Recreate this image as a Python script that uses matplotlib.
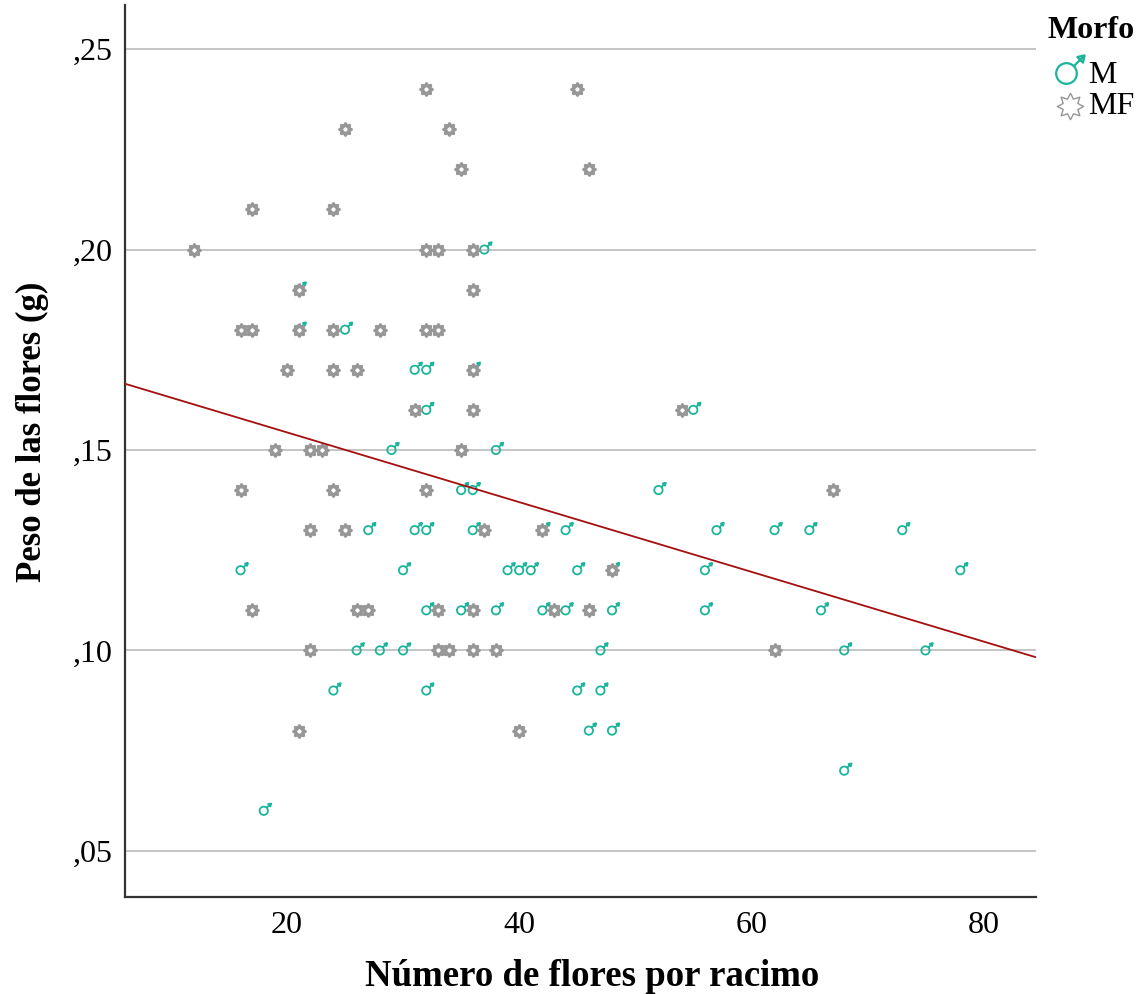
import matplotlib
matplotlib.use("Agg")
import matplotlib.pyplot as plt
from matplotlib.lines import Line2D
from matplotlib.path import Path
from matplotlib.ticker import FuncFormatter
import numpy as np

# Morfo M (male flowers)
m_flores = [37, 21, 21, 25, 31, 32, 36, 32, 55, 29, 38, 35, 36, 52,
            27, 31, 32, 36, 42, 44, 57, 62, 65, 73,
            16, 30, 39, 40, 41, 45, 48, 56, 78,
            32, 35, 38, 42, 44, 48, 56, 66,
            26, 28, 30, 47, 68, 75,
            24, 32, 45, 47, 46, 48, 68, 18]
m_peso = [.20, .19, .18, .18, .17, .17, .17, .16, .16, .15, .15, .14, .14, .14,
          .13, .13, .13, .13, .13, .13, .13, .13, .13, .13,
          .12, .12, .12, .12, .12, .12, .12, .12, .12,
          .11, .11, .11, .11, .11, .11, .11, .11,
          .10, .10, .10, .10, .10, .10,
          .09, .09, .09, .09, .08, .08, .07, .06]

# Morfo MF
mf_flores = [32, 45, 25, 34, 35, 46, 17, 24, 12, 32, 33, 36, 21, 36,
             16, 17, 21, 24, 28, 32, 33, 20, 24, 26, 36, 31, 36, 54,
             19, 22, 23, 35, 16, 24, 32, 67, 22, 25, 37, 42, 48,
             17, 26, 27, 33, 36, 43, 46, 22, 33, 34, 36, 38, 62, 21, 40]
mf_peso = [.24, .24, .23, .23, .22, .22, .21, .21, .20, .20, .20, .20, .19, .19,
           .18, .18, .18, .18, .18, .18, .18, .17, .17, .17, .17, .16, .16, .16,
           .15, .15, .15, .15, .14, .14, .14, .14, .13, .13, .13, .13, .12,
           .11, .11, .11, .11, .11, .11, .11, .10, .10, .10, .10, .10, .10, .08, .08]

y_ticks = [.05, .10, .15, .20, .25]
x_ticks = [20, 40, 60, 80]

teal = "#1cb59b"
gris = "#979797"

# male sign: circle centred on the point, arrow to the upper right
macho = Path.make_compound_path(
    Path.circle((0, 0), 1.0),
    Path([(0.71, 0.71), (1.75, 1.75)], [Path.MOVETO, Path.LINETO]),
    Path([(1.75, 1.75), (1.05, 1.6), (1.6, 1.05), (1.75, 1.75)],
         [Path.MOVETO, Path.LINETO, Path.LINETO, Path.CLOSEPOLY]))
estrella = Path.unit_regular_star(8, 0.6)

plt.rcParams['font.family'] = ['Liberation Serif', 'DejaVu Serif']

fig = plt.figure(figsize=(11.47, 9.94), dpi=100)
ax = fig.add_axes([0.109, 0.0976, 0.794, 0.8974])

ax.set_xlim(6.05, 84.5)
ax.set_ylim(0.0385, 0.261)

ax.scatter(m_flores, m_peso, marker=macho, s=110, facecolors='none',
           edgecolors=teal, linewidths=1.3, zorder=3)
ax.scatter(mf_flores, mf_peso, marker=estrella, s=70, facecolors='white',
           edgecolors=gris, linewidths=2.3, zorder=4)

# Fit line at total
todos_x = np.array(m_flores + mf_flores)
todos_y = np.array(m_peso + mf_peso)
pend, inter = np.polyfit(todos_x, todos_y, 1)
xl = np.array(ax.get_xlim())
ax.plot(xl, inter + pend * xl, color="#a50f0f", lw=1.3, zorder=5)

ax.set_yticks(y_ticks)
ax.set_xticks(x_ticks)
ax.yaxis.set_major_formatter(FuncFormatter(lambda v, p: ("%.2f" % v).replace("0.", ",")))
ax.tick_params(length=0, labelsize=23, pad=9)
ax.tick_params(axis='x', pad=10)
ax.grid(axis='y', color="#b5b5b5", lw=1.1)
ax.set_axisbelow(True)
for s in ['top', 'right']:
    ax.spines[s].set_visible(False)
for s in ['left', 'bottom']:
    ax.spines[s].set_color("#333333")
    ax.spines[s].set_linewidth(1.6)

fig.text(592 / 1147, 1 - 977 / 994, "Número de flores por racimo", fontsize=26.5,
         fontweight='bold', ha='center', va='center')
fig.text(32 / 1147, 1 - 582 / 994, "Peso de las flores (g)", fontsize=25,
         fontweight='bold', ha='center', va='bottom', rotation=90)

# legend, placed by hand to the right of the plot
fig.text(1048 / 1147, 1 - 38 / 994, "Morfo", fontsize=23, fontweight='bold',
         ha='left', va='baseline')
fig.text(1088 / 1147, 1 - 83 / 994, "M", fontsize=23, ha='left', va='baseline')
fig.text(1088 / 1147, 1 - 114 / 994, "MF", fontsize=23, ha='left', va='baseline')
fig.add_artist(Line2D([1066 / 1147], [1 - 73 / 994], transform=fig.transFigure,
                      marker=macho, markersize=26, markerfacecolor='none',
                      markeredgecolor=teal, markeredgewidth=1.6, ls='none'))
fig.add_artist(Line2D([1070 / 1147], [1 - 106 / 994], transform=fig.transFigure,
                      marker=estrella, markersize=19, markerfacecolor='white',
                      markeredgecolor=gris, markeredgewidth=1.0, ls='none'))

plt.savefig("out.png", dpi=100)
